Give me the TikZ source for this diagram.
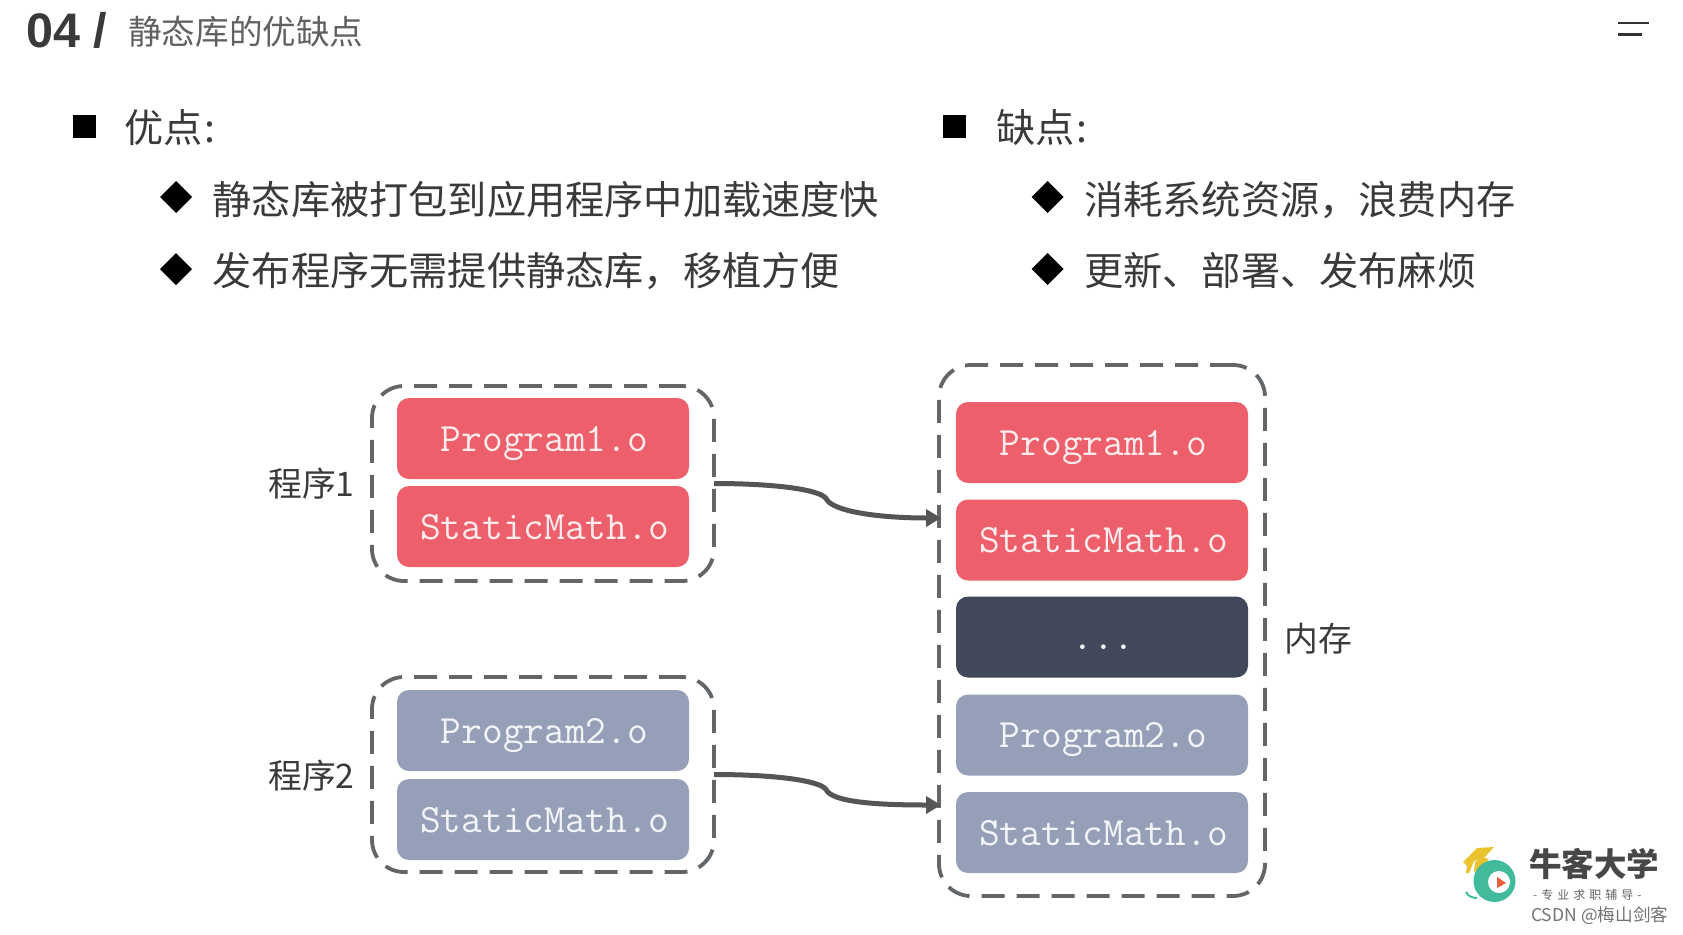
\documentclass[tikz,border=0pt]{standalone}
\usepackage{fontspec}
\setmainfont{Liberation Sans}
\newfontfamily\cjk{Noto Sans CJK SC}
\usetikzlibrary{arrows.meta,calc}
\definecolor{redbox}{HTML}{EC5F6B}
\definecolor{bluebox}{HTML}{969FB8}
\definecolor{darkbox}{HTML}{404859}
\definecolor{dashcol}{HTML}{636668}
\definecolor{arrowcol}{HTML}{555555}
\definecolor{inkcol}{HTML}{3A3A3A}
\definecolor{capgold}{HTML}{E9C42F}
\definecolor{ringgreen}{HTML}{41BB9B}
\definecolor{playorange}{HTML}{E8603A}
\tikzset{
  x=1pt,y=-1pt,
  objbox/.style={rounded corners=12pt,minimum width=292pt,minimum height=81pt,inner sep=0pt,
    text height=25pt,text depth=0pt,execute at begin node=\hspace{3pt},
    text=white!88!redbox,font=\ttfamily\fontsize{40.2}{40}\selectfont},
  redobj/.style={objbox,fill=redbox},
  blueobj/.style={objbox,fill=bluebox,text=white!88!bluebox},
  darkobj/.style={objbox,fill=darkbox,text=white},
  groupbox/.style={draw=dashcol,line width=3.8pt,rounded corners=32pt,dash pattern=on 23pt off 12pt,inner sep=0pt,outer sep=0pt},
  link/.style={draw=arrowcol,line width=5pt,shorten >=-2pt,-{Triangle[length=15pt,width=17pt]}},
  cjktext/.style={anchor=west,inner sep=0pt,font=\cjk\fontsize{39.2}{39}\selectfont,text=inkcol},
  sidelabel/.style={anchor=west,inner sep=0pt,font=\cjk\fontsize{33.8}{34}\selectfont,text=inkcol},
  squarebullet/.style={fill=black,minimum size=23pt,inner sep=0pt},
}
\begin{document}
\begin{tikzpicture}
\useasboundingbox (0,0) rectangle (1683,934);
\fill[white] (0,0) rectangle (1683,934);

% Page heading
\node[anchor=base west,inner sep=0pt,text=inkcol,font=\bfseries\fontsize{48.5}{48}\selectfont] (num) at (26,48) {04 /};
\node[anchor=west,inner sep=0pt,text=black!62,font=\cjk\fontsize{33.6}{34}\selectfont] (title) at (128,32) {静态库的优缺点};
\coordinate (menuA) at (1618,23);
\coordinate (menuB) at (1649,23);
\coordinate (menuC) at (1618,34.5);
\coordinate (menuD) at (1642,34.5);
\draw[line width=2.8pt,black!80] (menuA) -- (menuB) (menuC) -- (menuD);

% Advantages
\node[squarebullet] (sq1) at (84,126.5) {};
\node[cjktext] (adv) at (124.5,128) {优点\kern1.5pt:};
\fill (176,181) -- (192,197) -- (176,213) -- (160,197) -- cycle;
\node[cjktext] (adv1) at (212.5,200) {静态库被打包到应用程序中加载速度快};
\fill (176,253) -- (192,269) -- (176,285) -- (160,269) -- cycle;
\node[cjktext] (adv2) at (212.5,271) {发布程序无需提供静态库，移植方便};

% Disadvantages
\node[squarebullet] (sq2) at (954,126.5) {};
\node[cjktext] (dis) at (996,128) {缺点\kern1.5pt:};
\fill (1047.5,181) -- (1063.5,197) -- (1047.5,213) -- (1031.5,197) -- cycle;
\node[cjktext] (dis1) at (1084,200) {消耗系统资源，浪费内存};
\fill (1047.5,253) -- (1063.5,269) -- (1047.5,285) -- (1031.5,269) -- cycle;
\node[cjktext] (dis2) at (1084,271) {更新、部署、发布麻烦};

% Object files of the two programs
\node[redobj] (p1) at (543,438.5) {Program1.o};
\node[redobj] (s1) at (543,526.5) {StaticMath.o};
\node[blueobj] (p2) at (543,730.5) {Program2.o};
\node[blueobj] (s2) at (543,819.5) {StaticMath.o};

% Memory layout
\node[redobj] (mp1) at (1102,442.5) {Program1.o};
\node[redobj] (ms1) at (1102,540) {StaticMath.o};
\node[darkobj] (mdots) at (1102,637) {...};
\node[blueobj] (mp2) at (1102,735) {Program2.o};
\node[blueobj] (ms2) at (1102,832.5) {StaticMath.o};

% Dashed enclosures
\node[groupbox,minimum width=342pt,minimum height=195pt] (g1) at (543,483.5) {};
\node[groupbox,minimum width=342pt,minimum height=195pt] (g2) at (543,774.5) {};
\node[groupbox,minimum width=326pt,minimum height=531pt] (mem) at (1102,630.5) {};

% Side labels
\node[sidelabel] (l1) at (268,484) {程序1};
\node[sidelabel] (l2) at (268,776) {程序2};
\node[sidelabel] (l3) at (1284,639) {内存};

% Static linking arrows
\coordinate (t1) at (mem.west |- 0,518);
\coordinate (t2) at (mem.west |- 0,805);
\draw[link] (g1.east) .. controls ($(g1.east)+(60,0)$) and ($(g1.east)+(106,6)$) .. ($(g1.east)+(112,15)$)
  .. controls ($(g1.east)+(118,28)$) and ($(t1)+(-60,0)$) .. (t1);
\draw[link] (g2.east) .. controls ($(g2.east)+(60,0)$) and ($(g2.east)+(106,6)$) .. ($(g2.east)+(112,15)$)
  .. controls ($(g2.east)+(118,28)$) and ($(t2)+(-60,0)$) .. (t2);

% Brand mark
\fill[capgold] (1463,862) -- (1477,848) -- (1494,847) -- (1484,858) -- (1474,861) -- (1469,873) -- (1466,873) -- (1467,866) -- cycle;
\fill[capgold] (1475,862) .. controls (1482,856) and (1490,858) .. (1488,860) -- (1484,866) .. controls (1479,868) and (1476,872) .. (1474,872) -- cycle;
\fill[ringgreen] (1494.5,881) circle (21);
\fill[white] (1499,882) circle (11);
\fill[playorange] (1497,877) -- (1506,883) -- (1497,888) -- cycle;
\draw[ringgreen,line width=2pt] (1466,892) .. controls (1468,896) and (1472,898) .. (1477,898);
\node[anchor=west,inner sep=0pt,text=black!72,font=\cjk\bfseries\fontsize{32.5}{32}\selectfont] (brand) at (1529,864) {牛客大学};
\node[anchor=west,inner sep=0pt,text=black!60,font=\cjk\fontsize{12}{12}\selectfont] (motto) at (1533,895) {-\,\,专\,\,业\,\,求\,\,职\,\,辅\,\,导\,\,-};
\node[anchor=west,inner sep=0pt,text=black!55,font=\cjk\fontsize{17.6}{18}\selectfont] (mark) at (1531,916) {CSDN @梅山剑客};
\end{tikzpicture}
\end{document}
